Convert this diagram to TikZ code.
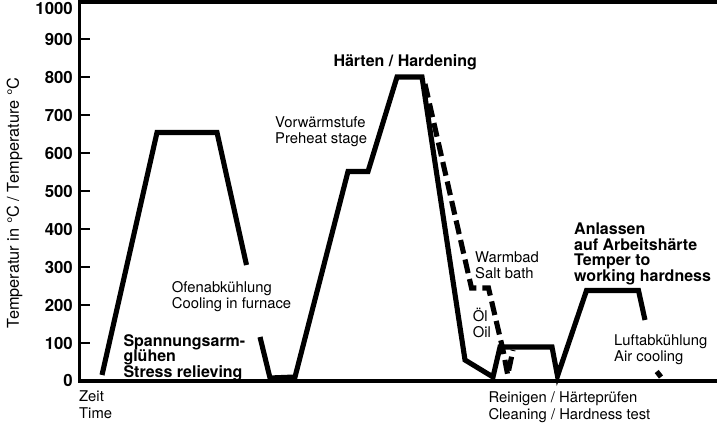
\documentclass[tikz,border=0pt]{standalone}
\usepackage{fontspec}
\setmainfont{TeX Gyre Heros}
\begin{document}
\begin{tikzpicture}[x=1pt,y=-1pt,
  curve/.style={line width=5.1pt, line join=miter, line cap=butt},
  dcurve/.style={curve, dash pattern=on 14pt off 6pt},
  axisline/.style={line width=3.8pt, line join=miter},
  tickline/.style={line width=2pt},
  ticklab/.style={font=\fontsize{16.8}{18}\selectfont\bfseries, anchor=east, inner sep=0pt},
  lab/.style={font=\fontsize{14.8}{16}\selectfont, align=left, anchor=north west, inner sep=0pt},
  blab/.style={font=\fontsize{16}{15.8}\selectfont\bfseries, align=left, anchor=north west, inner sep=0pt}]
\useasboundingbox (0,0) rectangle (717,430);
% axes
\coordinate (tr) at (717,1.9);
\coordinate (tl) at (79.4,1.9);
\coordinate (o) at (79.4,381);
\coordinate (br) at (717,381);
\draw[axisline] (tr) -- (tl) -- (o) -- (br);
% ticks and labels
\foreach \v in {1,...,9}{
  \coordinate (t\v) at (80,381-38*\v);
  \coordinate (te\v) at (90,381-38*\v);
  \draw[tickline] (t\v) -- (te\v);
  \node[ticklab] (l\v) at (73,381-38*\v) {\v00};
}
\node[ticklab] (l0) at (73,380) {0};
\node[ticklab] (l10) at (73,8) {1000};
\node[font=\fontsize{16.3}{18}\selectfont, rotate=90, inner sep=0pt] (ytitle) at (14.5,203) {Temperatur in °C / Temperature °C};
% stress relieving
\draw[curve] (102,375) -- (157,132.5) -- (217,132.5) -- (246.5,265);
% hardening sequence
\draw[curve] (260,337) -- (270,378) -- (295,377) -- (348,171.5) -- (368,171.5)
  -- (397,77) -- (422,77) -- (465,360) -- (493,377) -- (500,347) -- (552,347)
  -- (557.5,376) -- (586.5,290.5) -- (638.5,290.5) -- (645,320);
% salt bath (dashed)
\draw[dcurve] (425,84) -- (471.5,288) -- (488.5,288) -- (503,350) -- (507.7,375) -- (513,350);
% air cooling end
\draw[curve] (656.7,371.5) -- (661,377);
% labels
\node[blab] (stress) at (123.3,334) {Spannungsarm-\\glühen\\Stress relieving};
\node[lab] (ofen) at (171.7,281) {Ofenabkühlung\\Cooling in furnace};
\node[lab] (vor) at (275,116) {Vorwärmstufe\\Preheat stage};
\node[blab] (haerten) at (333.3,54) {Härten / Hardening};
\node[lab] (warm) at (475,251.5) {Warmbad\\Salt bath};
\node[lab] (oel) at (472.7,308) {Öl\\Oil};
\node[blab] (anl) at (574,222.5) {Anlassen\\auf Arbeitshärte\\Temper to\\working hardness};
\node[lab] (luft) at (614,334.5) {Luftabkühlung\\Air cooling};
\node[lab, font=\fontsize{14.8}{16.8}\selectfont] (zeit) at (79,390.5) {Zeit\\Time};
\node[lab, font=\fontsize{14.8}{16.8}\selectfont] (rein) at (488.3,391.5) {Reinigen / Härteprüfen\\Cleaning / Hardness test};
\end{tikzpicture}
\end{document}
